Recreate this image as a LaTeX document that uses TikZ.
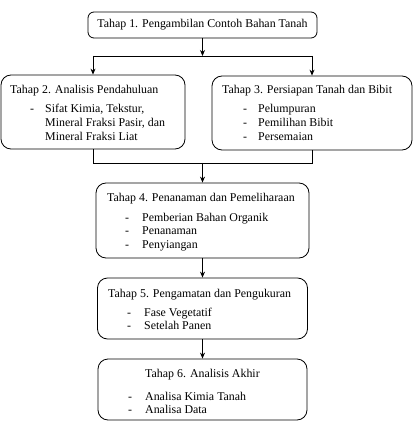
\documentclass[tikz,border=0pt]{standalone}
\usepackage{fontspec}
\setmainfont{Liberation Serif}
\usetikzlibrary{arrows.meta}
\tikzset{
  stepbox/.style={draw, rounded corners=10pt, line width=0.8pt, inner sep=0pt},
  teks/.style={anchor=base west, inner sep=0pt, font=\fontsize{11.9}{14}\selectfont},
  panah/.style={-{Stealth[length=6pt,width=5pt]}, line width=0.8pt},
  garis/.style={line width=0.8pt}
}
\begin{document}
\begin{tikzpicture}[x=1pt,y=-1pt]
	\useasboundingbox (0,0) rectangle (415,438);
	
	% kotak tahap
	\node[stepbox, rounded corners=6pt, minimum width=229pt, minimum height=26pt, font=\fontsize{11.9}{14}\selectfont] (t1) at (202.5,25) {Tahap 1. Pengambilan Contoh Bahan Tanah};
	\node[stepbox, minimum width=184pt, minimum height=74pt] (t2) at (93,112) {};
	\node[stepbox, minimum width=200pt, minimum height=74pt] (t3) at (312,113) {};
	\node[stepbox, minimum width=213pt, minimum height=75pt] (t4) at (202.5,220.5) {};
	\node[stepbox, minimum width=210pt, minimum height=61pt] (t5) at (202.5,308.5) {};
	\node[stepbox, minimum width=209pt, minimum height=61pt] (t6) at (202.5,389.5) {};
	
	% isi tahap 2
	\node[teks] (j2) at (10,94) {Tahap 2. Analisis Pendahuluan};
	\node[teks] (s2a) at (30,113) {-};
	\node[teks] (i2a) at (45,113) {Sifat Kimia, Tekstur,};
	\node[teks] (i2b) at (45,127) {Mineral Fraksi Pasir, dan};
	\node[teks] (i2c) at (45,141) {Mineral Fraksi Liat};
	
	% isi tahap 3
	\node[teks] (j3) at (222,94) {Tahap 3. Persiapan Tanah dan Bibit};
	\foreach \isi [count=\i] in {Pelumpuran, Pemilihan Bibit, Persemaian}{
		\node[teks] (s3\i) at (243,99+14*\i) {-};
		\node[teks] (i3\i) at (258,99+14*\i) {\isi};
	}
	
	% isi tahap 4
	\node[teks] (j4) at (107,201) {Tahap 4. Penanaman dan Pemeliharaan};
	\foreach \isi [count=\i] in {Pemberian Bahan Organik, Penanaman, Penyiangan}{
		\node[teks] (s4\i) at (125,207.5+13.5*\i) {-};
		\node[teks] (i4\i) at (142,207.5+13.5*\i) {\isi};
	}
	
	% isi tahap 5
	\node[teks] (j5) at (108,297) {Tahap 5. Pengamatan dan Pengukuran};
	\foreach \isi [count=\i] in {Fase Vegetatif, Setelah Panen}{
		\node[teks] (s5\i) at (127,303+13*\i) {-};
		\node[teks] (i5\i) at (144,303+13*\i) {\isi};
	}
	
	% isi tahap 6
	\node[teks, anchor=base] (j6) at (202.5,377) {Tahap 6. Analisis Akhir};
	\foreach \isi [count=\i] in {Analisa Kimia Tanah, Analisa Data}{
		\node[teks] (s6\i) at (128,387+13*\i) {-};
		\node[teks] (i6\i) at (145,387+13*\i) {\isi};
	}
	
	% percabangan dan panah
	\coordinate (cabkiri) at (93,56);
	\coordinate (cabkanan) at (312,56);
	\coordinate (gabkiri) at (93,163);
	\coordinate (gabkanan) at (312,163);
	\draw[panah] (t1.south) -- (t1.south |- cabkiri);
	\draw[garis] (cabkiri) -- (cabkanan);
	\draw[panah] (cabkiri) -- (t2.north);
	\draw[panah] (cabkanan) -- (t3.north);
	\draw[garis] (t2.south) -- (gabkiri) -- (gabkanan) -- (t3.south);
	\draw[panah] (t4.north |- gabkiri) -- (t4.north);
	\draw[panah] (t4.south) -- (t5.north);
	\draw[panah] (t5.south) -- (t6.north);
\end{tikzpicture}
\end{document}
